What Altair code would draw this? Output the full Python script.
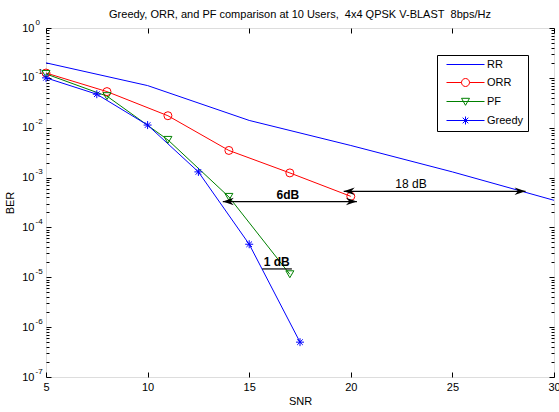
import altair as alt
import pandas as pd

# ---------------- data ----------------
rr_snr = [5, 10, 15, 20, 25, 30]
rr_ber = [0.2, 0.07, 0.014, 0.0044, 0.0013, 0.00035]

orr_snr = [5, 8, 11, 14, 17, 20]
orr_ber = [0.125, 0.053, 0.0174, 0.0035, 0.00124, 0.00042]

pf_snr = [5, 8, 11, 14, 17]
pf_ber = [0.12, 0.043, 0.0057, 0.00041, 1.15e-5]

greedy_snr = [5, 7.5, 10, 12.5, 15, 17.5]
greedy_ber = [0.1, 0.047, 0.0113, 0.0013, 4.6e-5, 5e-7]

series_names = ["RR", "ORR", "PF", "Greedy"]
series_colors = ["#0000ff", "#ff0000", "#008000", "#0000ff"]

x_ticks = [5, 10, 15, 20, 25, 30]
y_ticks = [1e-7, 1e-6, 1e-5, 1e-4, 1e-3, 1e-2, 1e-1, 1]
y_minor = [m * 10.0 ** k for k in range(-7, 0) for m in range(2, 10)]

# annotations
arrow_x1 = [13.7, 19.65]
arrow_x2 = [20.3, 28.6]
arrow_y = [3.3e-4, 5.3e-4]

note_text = ["6dB", "18 dB", "1 dB"]
note_x = [16.9, 22.96, 16.35]
note_y = [4.5e-4, 7.4e-4, 2.0e-5]
note_bold = [True, False, True]

underline_x1 = [15.64]
underline_x2 = [17.1]
underline_y = [1.47e-5]

title_text = "Greedy, ORR, and PF comparison at 10 Users,\u00a0 4x4 QPSK V-BLAST\u00a0 8bps/Hz"

FONT = "Liberation Sans"
W, H = 508, 349

# ---------------- scales / axes ----------------
xs = alt.Scale(domain=[5, 30], nice=False, zero=False)
ys = alt.Scale(type="log", domain=[1e-7, 1], nice=False)

ax_x_labels = alt.Axis(values=x_ticks, ticks=False, tickSize=0, domain=False, grid=False,
                       labelPadding=4, labelFontSize=11, labelFont=FONT, labelColor="black",
                       labelFlush=False, format="d", title="SNR", titleFont=FONT,
                       titleFontSize=11, titleFontWeight="normal", titlePadding=3,
                       titleColor="black")
ax_x_bottom_in = alt.Axis(orient="top", offset=-H, values=x_ticks, labels=False, domain=False,
                          grid=False, tickSize=5, tickColor="black", title=None)
ax_x_top_in = alt.Axis(orient="bottom", offset=-H, values=x_ticks, labels=False, domain=False,
                       grid=False, tickSize=5, tickColor="black", title=None)

ax_y_ten = alt.Axis(orient="left", values=y_ticks, labelExpr="'10'", ticks=False, tickSize=0,
                    domain=False, grid=False, labelPadding=12, labelFontSize=11, labelFont=FONT,
                    labelColor="black", labelFlush=False, labelOverlap=False, title="BER",
                    titleFont=FONT, titleFontSize=11, titleFontWeight="normal", titlePadding=6,
                    titleColor="black")
ax_y_exp = alt.Axis(orient="left", values=y_ticks,
                    labelExpr="'' + round(log(datum.value) / LN10)", ticks=False, tickSize=0,
                    domain=False, grid=False, labelAlign="left", labelPadding=11,
                    labelFontSize=8, labelFont=FONT, labelColor="black",
                    labelBaseline="line-bottom", labelLineHeight=12,
                    labelFlush=False, labelOverlap=False, title=None)
ax_y_left_in = alt.Axis(orient="right", offset=-W, values=y_ticks, labels=False, domain=False,
                        grid=False, tickSize=5, tickColor="black", title=None)
ax_y_right_in = alt.Axis(orient="left", offset=-W, values=y_ticks, labels=False, domain=False,
                         grid=False, tickSize=5, tickColor="black", title=None)
ax_y_left_minor = alt.Axis(orient="right", offset=-W, values=y_minor, labels=False, domain=False,
                           grid=False, tickSize=3, tickColor="black", title=None)
ax_y_right_minor = alt.Axis(orient="left", offset=-W, values=y_minor, labels=False, domain=False,
                            grid=False, tickSize=3, tickColor="black", title=None)


def X(field, axis=None):
    return alt.X(field, type="quantitative", scale=xs, axis=axis)


def Y(field, axis=None):
    return alt.Y(field, type="quantitative", scale=ys, axis=axis)


df_rr = pd.DataFrame({"snr": rr_snr, "ber": rr_ber})
df_orr = pd.DataFrame({"snr": orr_snr, "ber": orr_ber})
df_pf = pd.DataFrame({"snr": pf_snr, "ber": pf_ber})
df_gr = pd.DataFrame({"snr": greedy_snr, "ber": greedy_ber})

STAR = "M-1,0H1M0,-1V1M-0.7,-0.7L0.7,0.7M-0.7,0.7L0.7,-0.7"

rr_line = alt.Chart(df_rr).mark_line(color=series_colors[0], strokeWidth=1).encode(
    x=X("snr", ax_x_labels), y=Y("ber", ax_y_ten))
orr_line = alt.Chart(df_orr).mark_line(color=series_colors[1], strokeWidth=1).encode(
    x=X("snr", ax_x_bottom_in), y=Y("ber", ax_y_exp))
pf_line = alt.Chart(df_pf).mark_line(color=series_colors[2], strokeWidth=1).encode(
    x=X("snr", ax_x_top_in), y=Y("ber", ax_y_left_in))
gr_line = alt.Chart(df_gr).mark_line(color=series_colors[3], strokeWidth=1).encode(
    x=X("snr"), y=Y("ber", ax_y_right_in))

orr_pts = alt.Chart(df_orr).mark_point(shape="circle", filled=False, size=64, strokeWidth=1,
                                       color=series_colors[1], opacity=1).encode(
    x=X("snr"), y=Y("ber", ax_y_left_minor))
pf_pts = alt.Chart(df_pf).mark_point(shape="triangle-down", filled=False, size=64, strokeWidth=1,
                                     color=series_colors[2], opacity=1).encode(
    x=X("snr"), y=Y("ber", ax_y_right_minor))
gr_pts = alt.Chart(df_gr).mark_point(shape=STAR, filled=False, size=64, strokeWidth=1,
                                     color=series_colors[3], opacity=1).encode(
    x=X("snr"), y=Y("ber"))

# ---------------- annotations ----------------
df_arrow = pd.DataFrame({"x1": arrow_x1, "x2": arrow_x2, "y": arrow_y})
arrow_rules = alt.Chart(df_arrow).mark_rule(color="black", strokeWidth=1.2).encode(
    x=X("x1"), x2="x2", y=Y("y"))
HEAD_R = "M0,0L-2.2,-0.75L-1.5,0L-2.2,0.75Z"
HEAD_L = "M0,0L2.2,-0.75L1.5,0L2.2,0.75Z"
heads_r = alt.Chart(df_arrow).mark_point(shape=HEAD_R, filled=True, size=100, color="black",
                                         opacity=1).encode(x=X("x2"), y=Y("y"))
heads_l = alt.Chart(df_arrow).mark_point(shape=HEAD_L, filled=True, size=100, color="black",
                                         opacity=1).encode(x=X("x1"), y=Y("y"))

df_note = pd.DataFrame({"t": note_text, "x": note_x, "y": note_y, "b": note_bold})
notes_bold = alt.Chart(df_note).transform_filter("datum.b").mark_text(
    font=FONT, fontSize=12, fontWeight="bold", color="black", baseline="middle").encode(
    x=X("x"), y=Y("y"), text="t:N")
notes_norm = alt.Chart(df_note).transform_filter("!datum.b").mark_text(
    font=FONT, fontSize=12, fontWeight="normal", color="black", baseline="middle").encode(
    x=X("x"), y=Y("y"), text="t:N")

df_ul = pd.DataFrame({"x1": underline_x1, "x2": underline_x2, "y": underline_y})
underline = alt.Chart(df_ul).mark_rule(color="black", strokeWidth=1.2).encode(
    x=X("x1"), x2="x2", y=Y("y"))

# ---------------- legend (scale-driven, no visible marks) ----------------
LEG_RR = "M0,0H9.5"
LEG_ORR = "M0,0H3.75M5.75,0H9.5M5.75,0A1,1 0 1 1 3.75,0A1,1 0 1 1 5.75,0"
LEG_PF = "M0,0H9.5M3.75,-0.8L5.75,-0.8L4.75,0.95Z"
LEG_GR = "M0,0H9.5M3.75,0H5.75M4.75,-1V1M4.05,-0.7L5.45,0.7M4.05,0.7L5.45,-0.7"
legend_paths = [LEG_RR, LEG_ORR, LEG_PF, LEG_GR]

df_leg = pd.DataFrame({"series": series_names, "snr": [5, 5, 5, 5], "ber": [0.1] * 4})
leg = alt.Legend(title=None, orient="none", legendX=391, legendY=27, strokeColor="black",
                 fillColor="white", padding=4, labelFont=FONT, labelFontSize=11,
                 labelColor="black", symbolSize=64, symbolStrokeWidth=1, labelOffset=35,
                 rowPadding=6, symbolFillColor="transparent")
legend_layer = alt.Chart(df_leg).transform_filter("datum.snr < 0").mark_point(
    filled=False, size=64, strokeWidth=1, opacity=1).encode(
    x=X("snr"), y=Y("ber"),
    color=alt.Color("series:N", scale=alt.Scale(domain=series_names, range=series_colors),
                    legend=leg),
    shape=alt.Shape("series:N", scale=alt.Scale(domain=series_names, range=legend_paths),
                    legend=leg),
)

chart = alt.layer(
    rr_line, orr_line, pf_line, gr_line,
    orr_pts, pf_pts, gr_pts,
    arrow_rules, heads_r, heads_l, notes_bold, notes_norm, underline,
    legend_layer,
).resolve_axis(x="independent", y="independent").properties(
    width=W, height=H,
    title=alt.TitleParams(text=title_text, font=FONT, fontSize=11, fontWeight="normal",
                          anchor="middle", color="black", offset=3, dy=5),
    autosize=alt.AutoSizeParams(type="none"),
    padding={"left": 46, "top": 28, "right": 5, "bottom": 35},
).configure_view(stroke="black", strokeWidth=1.5).configure(background="white")

chart.save("out.html", embed_options={"renderer": "svg", "actions": False})
